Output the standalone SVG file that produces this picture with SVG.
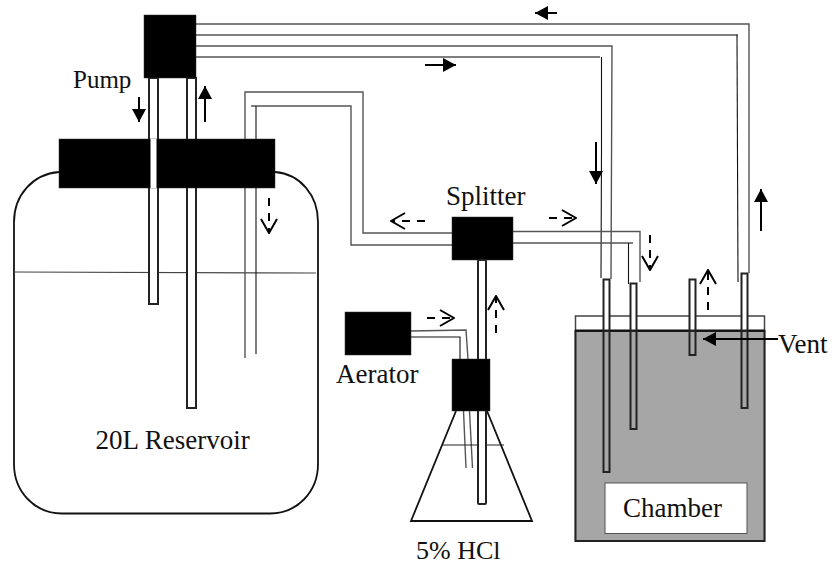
<svg xmlns="http://www.w3.org/2000/svg" width="832" height="565" viewBox="0 0 832 565">
<defs>
<marker id="solid" markerUnits="userSpaceOnUse" markerWidth="14" markerHeight="14" refX="13" refY="7" orient="auto"><path d="M0,0 L13,7 L0,14 Z" fill="#000"/></marker>
<marker id="open" markerUnits="userSpaceOnUse" markerWidth="16" markerHeight="20" refX="15" refY="10" orient="auto"><path d="M1,2 L15,10 L1,18" fill="none" stroke="#000" stroke-width="2"/></marker>
</defs>
<style>
text{font-family:"Liberation Serif","Times New Roman",serif;font-size:27px;fill:#111}
.k{fill:#000;stroke:#333;stroke-width:.5}
.p{fill:none;stroke:#555;stroke-width:1.4}
.d{fill:none;stroke:#111;stroke-width:1.1}
.o{fill:none;stroke:#111;stroke-width:1.8}
.t{stroke:#222;stroke-width:2}
.a{fill:none;stroke:#000;stroke-width:2;marker-end:url(#solid)}
.b{fill:none;stroke:#000;stroke-width:2;stroke-dasharray:8 7;marker-end:url(#open)}
</style>
<rect width="832" height="565" fill="#fff"/>
<g id="reservoir">
<path class="o" d="M59,172 C33,174 14,195 14,222 L14,464 C14,492 35,513.500 62,513.500 L270,513.500 C297,513.500 318,492 318,464 L318,222 C318,195 300,174 275,172"/>
<path d="M14,272 L316,273" fill="none" stroke="#444" stroke-width="1.2"/>
<text x="95.500" y="449">20L Reservoir</text>
</g>
<g id="chamber">
<rect x="575.500" y="316" width="189" height="225" fill="#fff" stroke="#444" stroke-width="1.500"/>
<rect x="575.500" y="331" width="189" height="210" fill="#a6a6a6" stroke="#222" stroke-width="2"/>
<path d="M575,330.500 H765" stroke="#111" stroke-width="1.800"/>
<rect x="605" y="483" width="142" height="50.500" fill="#fff" stroke="#555" stroke-width="1"/>
<text x="623" y="517">Chamber</text>
</g>
<g id="connectors">
<path class="p" d="M196,24 H749 V273"/>
<path class="p" d="M196,35 H738"/>
<path class="d" d="M737,35 L738,282"/>
<path class="p" d="M196,46 H612 L611,279"/>
<path class="p" d="M196,57 H600"/>
<path class="d" d="M601.500,57 V150 L601,278"/>
<path class="p" d="M513,231.500 H640 V282"/>
<path class="p" d="M513,243 H633"/>
<path class="d" d="M628.500,243 V284"/>
<path class="p" d="M452,233 H363 V92 H245 V358"/>
<path class="p" d="M452,245 H351 V106 H251"/>
<path class="d" d="M256,106 V354"/>
<path class="p" d="M411,331 L466,330 L468,359"/>
<path class="d" d="M411,337 H460 V359"/>
<path class="p" d="M463.500,411 L466,468"/>
<path class="p" d="M469.500,411 L472.500,468"/>
</g>
<g id="reservoir-tubes">
<rect class="t" x="149" y="78" width="9" height="226" fill="#fff"/>
<rect class="t" x="187" y="78" width="9" height="330" fill="#fff"/>
</g>
<g id="cap">
<rect class="k" x="59" y="139" width="216" height="49"/>
<rect x="150.500" y="139" width="6" height="49" fill="#fff"/>
</g>
<g id="pump">
<rect class="k" x="144" y="15" width="52" height="63"/>
<text x="73" y="88" style="font-size:25px">Pump</text>
</g>
<g id="splitter">
<rect class="k" x="452" y="217" width="61" height="43"/>
<text x="446" y="205">Splitter</text>
</g>
<g id="acid-flask">
<path class="o" d="M456,411 L411,521 H532 L487,411"/>
<path d="M442,445 H504" stroke="#222" stroke-width="1.200"/>
<rect class="t" x="478" y="260" width="8" height="244" fill="#fff" rx="1"/>
<rect class="k" x="452" y="359" width="38" height="52"/>
<text x="416" y="559" style="font-size:26px">5% HCl</text>
</g>
<g id="aerator">
<rect class="k" x="345" y="312" width="66" height="43"/>
<text x="336" y="383">Aerator</text>
</g>
<g id="chamber-tubes">
<rect class="t" x="603.500" y="279.500" width="6" height="51" fill="#fff"/>
<rect class="t" x="603.500" y="331" width="6" height="141" fill="#a6a6a6"/>
<rect class="t" x="630.500" y="283.500" width="6" height="47" fill="#fff"/>
<rect class="t" x="630.500" y="331" width="6" height="98" fill="#a6a6a6"/>
<rect class="t" x="689.500" y="279.500" width="6" height="51" fill="#fff"/>
<rect class="t" x="689.500" y="331" width="6" height="24" fill="#a6a6a6"/>
<rect class="t" x="741.500" y="273.500" width="6" height="57" fill="#fff"/>
<rect class="t" x="741.500" y="331" width="6" height="77" fill="#a6a6a6"/>
</g>
<g id="flow-arrows">
<path class="a" d="M557,13 H535"/>
<path class="a" d="M425,65 H456"/>
<path class="a" d="M139,97 V122"/>
<path class="a" d="M205,122 V86"/>
<path class="a" d="M596,142 V184"/>
<path class="a" d="M761,231 V189"/>
<path class="b" d="M269,198 V233"/>
<path class="b" d="M425,221 H391"/>
<path class="b" d="M549,218 H576"/>
<path class="b" d="M650,235 V270"/>
<path class="b" d="M708,310 V270"/>
<path class="b" d="M496,333 V296"/>
<path class="b" d="M427,318 H454"/>
</g>
<g id="vent">
<path class="a" d="M778,339 H703"/>
<text x="778" y="353">Vent</text>
</g>
</svg>
